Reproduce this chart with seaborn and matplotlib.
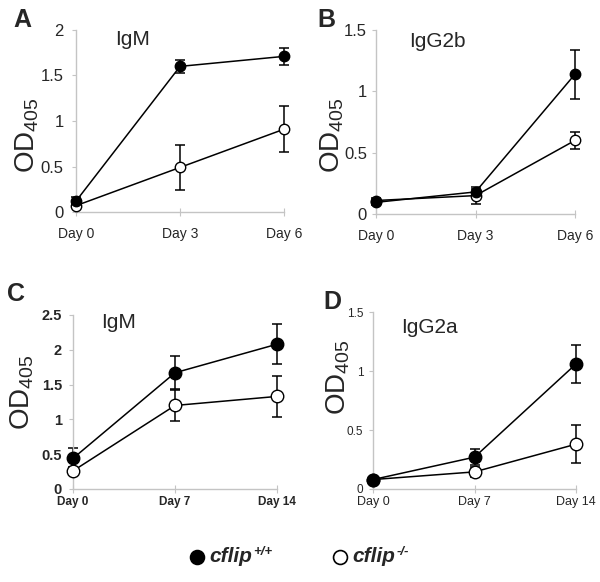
import matplotlib
matplotlib.use("Agg")
import matplotlib.pyplot as plt
from matplotlib.lines import Line2D
import pandas as pd
import seaborn as sns

# panel A - IgM, days 0/3/6
days_a = ["Day 0", "Day 3", "Day 6"]
wt_a = [0.12, 1.60, 1.71]
wt_a_err = [0.04, 0.07, 0.09]
ko_a = [0.07, 0.49, 0.91]
ko_a_err = [0.02, 0.25, 0.25]

# panel B - IgG2b, days 0/3/6
days_b = ["Day 0", "Day 3", "Day 6"]
wt_b = [0.095, 0.18, 1.14]
wt_b_err = [0.02, 0.02, 0.20]
ko_b = [0.11, 0.15, 0.60]
ko_b_err = [0.02, 0.07, 0.07]

# panel C - IgM, days 0/7/14
days_c = ["Day 0", "Day 7", "Day 14"]
wt_c = [0.44, 1.67, 2.08]
wt_c_err = [0.15, 0.24, 0.29]
ko_c = [0.26, 1.20, 1.33]
ko_c_err = [0.06, 0.22, 0.29]

# panel D - IgG2a, days 0/7/14
days_d = ["Day 0", "Day 7", "Day 14"]
wt_d = [0.08, 0.27, 1.06]
wt_d_err = [0.01, 0.07, 0.16]
ko_d = [0.08, 0.145, 0.38]
ko_d_err = [0.01, 0.045, 0.16]

yticks_a = [0, 0.5, 1, 1.5, 2]
yticks_b = [0, 0.5, 1, 1.5]
yticks_c = [0, 0.5, 1, 1.5, 2, 2.5]
yticks_d = [0, 0.5, 1, 1.5]

legend_names = ["cflip", "cflip"]
legend_sups = ["+/+", "-/-"]

sns.set_style("white")
plt.rcParams["font.family"] = ["Liberation Sans", "DejaVu Sans"]
plt.rcParams["mathtext.fontset"] = "custom"
plt.rcParams["mathtext.rm"] = "Liberation Sans"

fig = plt.figure(figsize=(6, 5.82), dpi=100)

panels = [
    dict(rect=[0.1267, 0.6357, 0.3467, 0.3128], days=days_a, wt=wt_a, wte=wt_a_err, ko=ko_a, koe=ko_a_err,
         yt=yticks_a, title="IgM", tpos=(0.27, 0.95), letter="A", lpos=(22, 20), bold=False,
         ms=7.5, ylab=(-0.235, 0.42), xpad=8, ypad=6, xfs=10, yfs=12),
    dict(rect=[0.6267, 0.6323, 0.3317, 0.3162], days=days_b, wt=wt_b, wte=wt_b_err, ko=ko_b, koe=ko_b_err,
         yt=yticks_b, title="IgG2b", tpos=(0.31, 0.935), letter="B", lpos=(326, 20), bold=False,
         ms=7.5, ylab=(-0.22, 0.43), xpad=8, ypad=3.5, xfs=10, yfs=12),
    dict(rect=[0.1217, 0.1598, 0.34, 0.299], days=days_c, wt=wt_c, wte=wt_c_err, ko=ko_c, koe=ko_c_err,
         yt=yticks_c, title="IgM", tpos=(0.225, 0.954), letter="C", lpos=(16, 294), bold=True,
         ms=9, ylab=(-0.25, 0.557), xpad=2, ypad=5, xfs=8.5, yfs=10.5),
    dict(rect=[0.6217, 0.1598, 0.3383, 0.304], days=days_d, wt=wt_d, wte=wt_d_err, ko=ko_d, koe=ko_d_err,
         yt=yticks_d, title="IgG2a", tpos=(0.28, 0.915), letter="D", lpos=(332, 302), bold=False,
         ms=9, ylab=(-0.17, 0.633), xpad=2, ypad=4, xfs=9, yfs=8.5),
]

grey = "#c4c4c4"
for p in panels:
    ax = fig.add_axes(p["rect"])
    n = len(p["days"])
    df = pd.DataFrame({
        "pos": list(range(n)) * 2,
        "OD": p["ko"] + p["wt"],
        "err": p["koe"] + p["wte"],
        "genotype": ["ko"] * n + ["wt"] * n,
    })
    for g, face in [("ko", "white"), ("wt", "black")]:
        sub = df[df["genotype"] == g]
        ax.errorbar(sub["pos"], sub["OD"], yerr=sub["err"], fmt="none", ecolor="black",
                    elinewidth=1.1, capsize=3.5, capthick=1.1, clip_on=False, zorder=2)
        sns.lineplot(data=sub, x="pos", y="OD", ax=ax, color="black", linewidth=1.1,
                     marker="o", markersize=p["ms"], markerfacecolor=face,
                     markeredgecolor="black", markeredgewidth=1.0, clip_on=False, zorder=3)
    ax.set_xlim(0, n - 1)
    ax.set_ylim(0, p["yt"][-1])
    weight = "bold" if p["bold"] else "normal"
    ax.set_xticks(range(n))
    ax.set_xticklabels(p["days"], fontsize=p["xfs"], fontweight=weight)
    ax.set_yticks(p["yt"])
    ax.set_yticklabels([f"{v:g}" for v in p["yt"]], fontsize=p["yfs"], fontweight=weight)
    ax.tick_params(axis="x", direction="inout", length=6, color=grey, pad=p["xpad"], bottom=True)
    ax.tick_params(axis="y", direction="out", length=3, color=grey, pad=p["ypad"], left=True)
    for s in ["top", "right"]:
        ax.spines[s].set_visible(False)
    for s in ["left", "bottom"]:
        ax.spines[s].set_color(grey)
        ax.spines[s].set_linewidth(1.0)
    ax.set_xlabel("")
    ax.set_ylabel(r"OD$_{405}$", fontsize=20, va="center")
    ax.yaxis.set_label_coords(*p["ylab"])
    ax.text(p["tpos"][0], p["tpos"][1], p["title"], transform=ax.transAxes,
            fontsize=15, ha="center", va="center")
    fig.text(p["lpos"][0] / 600, 1 - p["lpos"][1] / 582, p["letter"], fontsize=18,
             fontweight="bold", ha="center", va="center")

# legend drawn at figure level
leg_y = 1 - 557 / 582
for xm, face, name, sup in [(197, "black", legend_names[0], legend_sups[0]),
                             (340, "white", legend_names[1], legend_sups[1])]:
    fig.add_artist(Line2D([xm / 600], [leg_y], transform=fig.transFigure, linestyle="none",
                          marker="o", markersize=10, markerfacecolor=face,
                          markeredgecolor="black", markeredgewidth=1.2))
    t = fig.text((xm + 12) / 600, leg_y, name, fontsize=15, fontweight="bold",
                 fontstyle="italic", ha="left", va="center")
    ax.annotate(sup, xy=(1, 1), xycoords=t, xytext=(1, 1), textcoords="offset points",
                fontsize=9.5, fontweight="bold", fontstyle="italic", ha="left", va="top",
                annotation_clip=False)

fig.savefig("out.png", dpi=100)
